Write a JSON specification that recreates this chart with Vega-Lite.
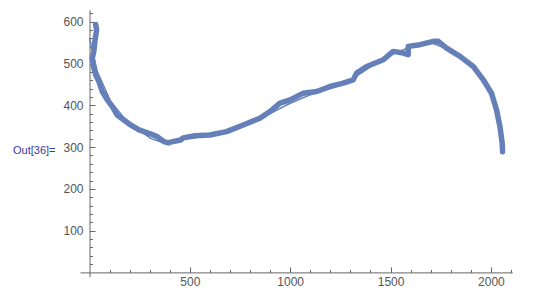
{
  "$schema": "https://vega.github.io/schema/vega-lite/v6.json",
  "autosize": {"type": "none"},
  "padding": {"left": 80, "top": 10, "right": 29.8, "bottom": 18.3},
  "width": 432.2,
  "height": 266.7,
  "background": "white",
  "config": {
    "view": {"stroke": null},
    "axis": {
      "labelFont": "Liberation Sans",
      "labelFontSize": 12,
      "labelColor": "#555555",
      "domainColor": "#666666",
      "tickColor": "#666666",
      "grid": false,
      "domainWidth": 1,
      "tickWidth": 1
    }
  },
  "datasets": {
    "thick": [
      {"i": 1, "x": 31, "y": 593}, {"i": 2, "x": 36, "y": 581}, {"i": 3, "x": 27, "y": 553},
      {"i": 4, "x": 22, "y": 529}, {"i": 5, "x": 14, "y": 513}, {"i": 6, "x": 22, "y": 489},
      {"i": 7, "x": 31, "y": 473}, {"i": 8, "x": 47, "y": 457}, {"i": 9, "x": 64, "y": 433},
      {"i": 10, "x": 89, "y": 413}, {"i": 11, "x": 114, "y": 397}, {"i": 12, "x": 138, "y": 377},
      {"i": 13, "x": 172, "y": 365}, {"i": 14, "x": 205, "y": 353}, {"i": 15, "x": 247, "y": 341},
      {"i": 16, "x": 296, "y": 333}, {"i": 17, "x": 338, "y": 325}, {"i": 18, "x": 371, "y": 313},
      {"i": 19, "x": 393, "y": 310}, {"i": 20, "x": 404, "y": 312}, {"i": 21, "x": 454, "y": 317},
      {"i": 22, "x": 467, "y": 322}, {"i": 23, "x": 526, "y": 327}, {"i": 24, "x": 600, "y": 329},
      {"i": 25, "x": 683, "y": 337}, {"i": 26, "x": 766, "y": 353}, {"i": 27, "x": 849, "y": 369},
      {"i": 28, "x": 899, "y": 385}, {"i": 29, "x": 949, "y": 405}, {"i": 30, "x": 999, "y": 413},
      {"i": 31, "x": 1065, "y": 429}, {"i": 32, "x": 1132, "y": 433}, {"i": 33, "x": 1198, "y": 445},
      {"i": 34, "x": 1264, "y": 453}, {"i": 35, "x": 1314, "y": 461}, {"i": 36, "x": 1331, "y": 477},
      {"i": 37, "x": 1381, "y": 493}, {"i": 38, "x": 1464, "y": 509}, {"i": 39, "x": 1513, "y": 529},
      {"i": 40, "x": 1563, "y": 525}, {"i": 41, "x": 1588, "y": 521}, {"i": 42, "x": 1588, "y": 541},
      {"i": 43, "x": 1646, "y": 545}, {"i": 44, "x": 1713, "y": 553}, {"i": 45, "x": 1738, "y": 553},
      {"i": 46, "x": 1779, "y": 537}, {"i": 47, "x": 1846, "y": 517}, {"i": 48, "x": 1912, "y": 493},
      {"i": 49, "x": 1962, "y": 461}, {"i": 50, "x": 2003, "y": 429}, {"i": 51, "x": 2028, "y": 389},
      {"i": 52, "x": 2045, "y": 349}, {"i": 53, "x": 2056, "y": 310}, {"i": 54, "x": 2058, "y": 289}
    ],
    "thin": [
      {"i": 1, "x": 0, "y": 561}, {"i": 2, "x": 39, "y": 481}, {"i": 3, "x": 106, "y": 409},
      {"i": 4, "x": 188, "y": 361}, {"i": 5, "x": 305, "y": 321}, {"i": 6, "x": 371, "y": 310},
      {"i": 7, "x": 450, "y": 318}, {"i": 8, "x": 600, "y": 327}, {"i": 9, "x": 766, "y": 350},
      {"i": 10, "x": 900, "y": 380}, {"i": 11, "x": 1000, "y": 405}, {"i": 12, "x": 1100, "y": 425},
      {"i": 13, "x": 1200, "y": 440}, {"i": 14, "x": 1300, "y": 460}, {"i": 15, "x": 1400, "y": 492},
      {"i": 16, "x": 1500, "y": 520}, {"i": 17, "x": 1600, "y": 540}, {"i": 18, "x": 1700, "y": 550},
      {"i": 19, "x": 1780, "y": 535}, {"i": 20, "x": 1850, "y": 515}, {"i": 21, "x": 1920, "y": 488},
      {"i": 22, "x": 1970, "y": 460}
    ]
  },
  "layer": [
    {
      "data": {"name": "thin"},
      "mark": {"type": "line", "color": "#6580B8", "strokeWidth": 1.5, "strokeJoin": "round"},
      "encoding": {
        "x": {"field": "x", "type": "quantitative",
          "scale": {"domain": [-47, 2106], "nice": false, "zero": false},
          "axis": {"orient": "bottom", "offset": -4.3, "values": [100, 200, 300, 400, 600, 700, 800, 900, 1100, 1200, 1300, 1400, 1600, 1700, 1800, 1900, 2100], "labels": false, "domain": false, "tickSize": -3, "title": null}},
        "y": {"field": "y", "type": "quantitative",
          "scale": {"domain": [-10, 628], "nice": false, "zero": false},
          "axis": {"orient": "left", "offset": -9.5, "values": [20, 40, 60, 80, 120, 140, 160, 180, 220, 240, 260, 280, 320, 340, 360, 380, 420, 440, 460, 480, 520, 540, 560, 580, 620], "labels": false, "domain": false, "tickSize": -3, "title": null}},
        "order": {"field": "i", "type": "quantitative"}
      }
    },
    {
      "data": {"name": "thick"},
      "mark": {"type": "line", "color": "#6580B8", "strokeWidth": 5.5, "strokeJoin": "round", "strokeCap": "round"},
      "encoding": {
        "x": {"field": "x", "type": "quantitative",
          "axis": {"orient": "bottom", "offset": -4.3, "values": [500, 1000, 1500, 2000], "format": "d", "tickSize": -5.5, "labelPadding": 10, "title": null}},
        "y": {"field": "y", "type": "quantitative",
          "axis": {"orient": "left", "offset": -9.5, "values": [100, 200, 300, 400, 500, 600], "format": "d", "tickSize": -5.5, "labelPadding": 12,
            "title": "Out[36]=", "titleAngle": 0, "titleAlign": "right", "titleBaseline": "middle",
            "titleX": -34.5, "titleY": 140.7, "titleFont": "Liberation Sans", "titleFontSize": 11,
            "titleFontWeight": "normal", "titleColor": "#38389e"}},
        "order": {"field": "i", "type": "quantitative"}
      }
    }
  ],
  "resolve": {"axis": {"x": "independent", "y": "independent"}}
}
